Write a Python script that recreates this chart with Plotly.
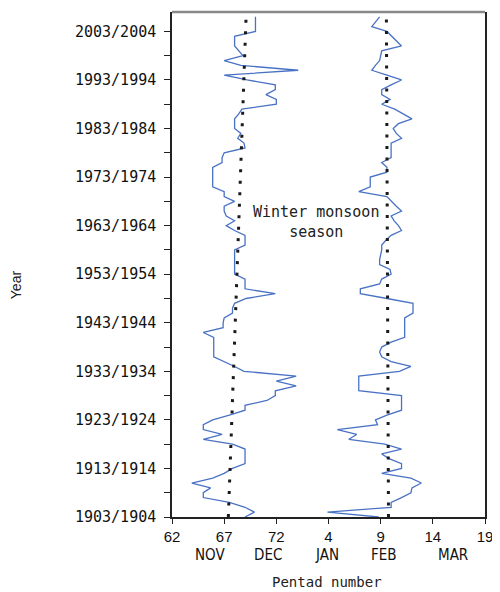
import plotly.graph_objects as go

AZUL = '#4a72c4'

# anos (inverno de 1903/1904 até 2006/2007)
years = list(range(1903, 2007))

# pêntada de início da monção (pêntadas do ano corrente, podem passar de 73)
onset = [69.0, 69.9, 69.0, 67.5, 65.0, 65.0, 65.7, 63.9, 65.9, 67.0,
         67.8, 69.0, 69.0, 69.0, 69.0, 67.8, 65.0, 66.8, 65.0, 65.0,
         65.9, 67.5, 69.0, 69.0, 71.1, 71.9, 71.9, 73.9, 72.0, 73.9,
         68.9, 68.0, 67.0, 66.0, 66.0, 66.0, 66.0, 66.0, 65.0, 66.9,
         66.9, 67.0, 67.8, 67.8, 68.0, 69.1, 71.9, 69.0, 69.0, 69.0,
         68.0, 68.0, 68.0, 68.0, 68.0, 68.0, 69.0, 69.0, 69.0, 68.0,
         67.2, 68.0, 67.2, 67.0, 67.0, 68.0, 67.0, 67.0, 65.9, 65.9,
         65.9, 65.9, 65.9, 66.8, 66.8, 67.0, 69.0, 68.9, 68.3, 68.6,
         68.0, 68.0, 68.0, 68.4, 68.7, 72.0, 72.0, 71.0, 71.9, 71.9,
         69.2, 67.0, 74.1, 68.6, 67.0, 68.8, 68.4, 68.0, 68.0, 68.0,
         70.0, 70.0, 70.0, 70.0]

# pêntada de fim da monção (pêntadas do ano seguinte)
end = [8.8, 3.9, 10.0, 10.0, 11.0, 11.9, 12.0, 12.9, 11.9, 9.1,
       11.0, 11.0, 9.8, 9.1, 11.0, 9.4, 5.95, 6.7, 4.85, 8.7,
       8.5, 9.6, 11.0, 11.0, 11.0, 11.0, 6.9, 6.9, 6.9, 6.9,
       10.8, 11.9, 10.0, 9.1, 8.9, 9.1, 10.0, 11.3, 11.3, 11.3,
       11.3, 11.3, 12.1, 12.1, 12.1, 9.6, 7.05, 7.05, 8.9, 9.1,
       10.0, 9.9, 8.9, 8.9, 9.0, 9.1, 9.1, 9.5, 10.0, 11.0,
       10.7, 10.3, 10.0, 11.0, 10.5, 10.0, 9.6, 6.9, 8.0, 8.0,
       8.0, 9.6, 9.6, 9.1, 10.0, 10.0, 10.0, 10.0, 11.0, 10.5,
       10.2, 10.7, 12.0, 11.2, 10.35, 9.1, 9.9, 9.1, 9.1, 10.0,
       11.0, 9.6, 8.15, 8.5, 8.9, 9.0, 9.1, 11.0, 10.5, 10.0,
       9.6, 8.15, 8.5, 8.9]

# tendências lineares (extremos)
trend_years = [1903, 2006]
trend_onset = [67.4, 69.1]
trend_end = [9.75, 9.55]

PENTADS_PER_YEAR = 73

x_ticks = [62, 67, 72, 77, 82, 87, 92]
x_tick_labels = ['62', '67', '72', '4', '9', '14', '19']
month_labels = ['NOV', 'DEC', 'JAN', 'FEB', 'MAR']
month_pos = [65.6, 71.2, 76.9, 82.3, 88.9]
year_ticks = list(range(1903, 2004, 10))
year_tick_labels = [f'{y}/{y + 1}' for y in year_ticks]

end_cont = [v + PENTADS_PER_YEAR for v in end]
trend_end_cont = [v + PENTADS_PER_YEAR for v in trend_end]

fig = go.Figure()

for xs in (onset, end_cont):
    fig.add_trace(go.Scatter(x=xs, y=years, mode='lines',
                             line=dict(color=AZUL, width=1.3),
                             showlegend=False))

for xs in (trend_onset, trend_end_cont):
    fig.add_trace(go.Scatter(x=xs, y=trend_years, mode='lines',
                             line=dict(color='#1a1a1a', width=3, dash='3px,8.5px'),
                             showlegend=False))

# a página tem 8px de margem no body, por isso a figura é 492x584
fig.update_layout(
    width=492, height=584,
    margin=dict(l=164, r=15, t=4, b=75),
    plot_bgcolor='white', paper_bgcolor='white',
    xaxis=dict(range=[62, 92], tickvals=x_ticks, ticktext=x_tick_labels,
               showgrid=False, zeroline=False,
               showline=True, linecolor='#222', linewidth=1.5,
               ticks='outside', ticklen=5, tickcolor='#222',
               ticklabeloverflow='allow',
               tickfont=dict(family='Liberation Sans, Arial', size=15, color='#111')),
    yaxis=dict(range=[1903, 2007], tickvals=year_ticks, ticktext=year_tick_labels,
               showgrid=False, zeroline=False,
               showline=True, linecolor='#222', linewidth=1.5, mirror=True,
               ticks='outside', ticklen=6, tickcolor='#222',
               ticklabelstandoff=5,
               minor=dict(dtick=5, tick0=1903, ticks='outside', ticklen=6,
                          tickcolor='#222', showgrid=False),
               tickfont=dict(family='DejaVu Sans Mono', size=15, color='#111')),
)

# borda superior cinza
fig.add_shape(type='line', xref='paper', yref='paper', x0=0, x1=1, y0=1, y1=1,
              line=dict(color='#888', width=2.5))

for lab, pos in zip(month_labels, month_pos):
    fig.add_annotation(x=pos, y=-0.075, xref='x', yref='paper', text=lab,
                       showarrow=False, yanchor='middle', xanchor='center',
                       font=dict(family='Liberation Sans Narrow, DejaVu Sans Condensed, sans-serif',
                                 size=15, color='#111'))

fig.add_annotation(x=76.9, y=-0.128, xref='x', yref='paper', text='Pentad number',
                   showarrow=False, yanchor='middle', xanchor='center',
                   font=dict(family='DejaVu Sans Mono', size=14, color='#222'))

fig.add_annotation(x=-0.5, y=0.46, xref='paper', yref='paper', text='Year',
                   textangle=-90, showarrow=False, xanchor='center', yanchor='middle',
                   font=dict(family='Liberation Sans, Arial', size=14, color='#222'))

fig.add_annotation(x=75.8, y=1963.8, xref='x', yref='y',
                   text='Winter monsoon<br>season', showarrow=False,
                   xanchor='center', yanchor='middle',
                   font=dict(family='DejaVu Sans Mono', size=15, color='#222'))

fig.write_html("out.html")
